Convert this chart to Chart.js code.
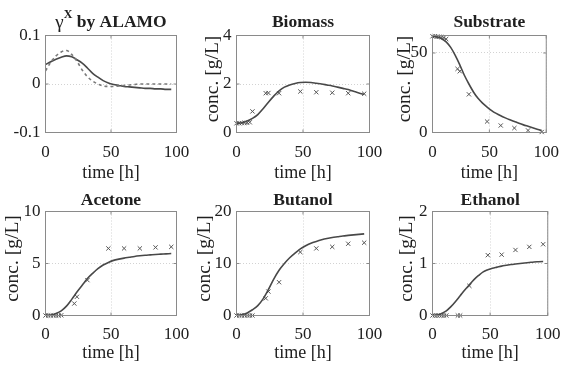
<!DOCTYPE html>
<html>
<head>
<meta charset="utf-8">
<script src="https://cdn.jsdelivr.net/npm/chart.js@4.4.0/dist/chart.umd.min.js"></script>
<style>
  html, body { margin: 0; padding: 0; background: #fff; }
  #wrap { position: relative; width: 569px; height: 369px; overflow: hidden; }
  #wrap canvas { position: absolute; left: 0; top: 0; }
</style>
</head>
<body>
<div id="wrap">
  <canvas id="c0" width="569" height="369"></canvas>
  <canvas id="c1" width="569" height="369"></canvas>
  <canvas id="c2" width="569" height="369"></canvas>
  <canvas id="c3" width="569" height="369"></canvas>
  <canvas id="c4" width="569" height="369"></canvas>
  <canvas id="c5" width="569" height="369"></canvas>
</div>
<script>
// model curves (time grid) and measured points
const modelTime = [0, 4, 8, 12, 16, 20, 24, 28, 32, 36, 40, 44, 48, 52, 56, 60, 64, 68, 72, 76, 80, 84, 88, 92, 96];
const expTime = [0, 2, 4, 6, 8, 10, 12, 22, 24, 32, 48, 60, 72, 84, 96];

const gammaAlamo = [0.040, 0.046, 0.051, 0.055, 0.058, 0.056, 0.050, 0.043, 0.033, 0.022, 0.014, 0.007, 0.002,
  -0.001, -0.003, -0.005, -0.006, -0.007, -0.008, -0.009, -0.009, -0.010, -0.010, -0.011, -0.011];
const gammaRef = [0.027, 0.045, 0.058, 0.066, 0.069, 0.061, 0.047, 0.029, 0.015, 0.006, 0.000, -0.004, -0.005,
  -0.005, -0.004, -0.003, -0.002, -0.001, 0, 0, 0, 0, 0, 0, 0];

const biomassModel = [0.38, 0.40, 0.47, 0.58, 0.74, 0.98, 1.25, 1.50, 1.72, 1.87, 1.96, 2.02, 2.06, 2.07, 2.06,
  2.03, 2.00, 1.96, 1.92, 1.87, 1.82, 1.77, 1.70, 1.63, 1.57];
const biomassExp = [0.38, 0.38, 0.39, 0.40, 0.40, 0.42, 0.87, 1.62, 1.63, 1.62, 1.69, 1.66, 1.64, 1.62, 1.60];

const substrateModel = [60.5, 60.0, 59.0, 57.0, 53.5, 48.5, 42.5, 36.0, 30.5, 25.5, 21.5, 18.5, 16.0, 13.8, 12.0,
  10.5, 9.2, 8.0, 6.9, 5.8, 4.8, 3.9, 3.0, 2.1, 1.2];
const substrateExp = [60.5, 60.5, 60.3, 60.2, 60.0, 59.7, 58.8, 40.0, 38.5, 24.0, 6.9, 4.4, 2.8, 1.3, 0.3];

const acetoneModel = [0, 0.05, 0.2, 0.45, 0.9, 1.55, 2.25, 2.9, 3.55, 4.05, 4.5, 4.85, 5.1, 5.3, 5.42,
  5.52, 5.6, 5.68, 5.74, 5.79, 5.83, 5.87, 5.9, 5.93, 5.96];
const acetoneExp = [0, 0, 0, 0, 0, 0, 0.02, 1.15, 1.8, 3.4, 6.45, 6.45, 6.45, 6.55, 6.6];

const butanolModel = [0, 0.15, 0.5, 1.1, 1.9, 3.2, 5.0, 7.0, 8.7, 10.0, 11.1, 12.0, 12.8, 13.4, 13.9,
  14.25, 14.55, 14.8, 15.0, 15.15, 15.3, 15.4, 15.5, 15.6, 15.7];
const butanolExp = [0, 0, 0, 0, 0, 0, 0, 3.3, 4.6, 6.4, 12.2, 12.9, 13.2, 13.8, 14.0];

const ethanolModel = [0, 0.01, 0.04, 0.09, 0.17, 0.27, 0.38, 0.49, 0.59, 0.69, 0.77, 0.84, 0.88, 0.91, 0.93,
  0.95, 0.965, 0.98, 0.99, 1.0, 1.01, 1.02, 1.03, 1.035, 1.04];
const ethanolExp = [0, 0, 0, 0, 0, 0, 0, 0, 0, 0.57, 1.16, 1.17, 1.26, 1.32, 1.37];

const xTicks = [0, 50, 100];
const gammaTicks = [-0.1, 0, 0.1];
const biomassTicks = [0, 2, 4];
const substrateTicks = [0, 50];
const acetoneTicks = [0, 5, 10];
const butanolTicks = [0, 10, 20];
const ethanolTicks = [0, 1, 2];

const FONT = '"Liberation Serif", "Times New Roman", serif';
const INK = '#202020';
const FRAME = '#8a8a8a';
const W = 569, H = 369;

// axes boxes (MATLAB subplot positions)
const cols = [[45.5, 176.5], [236.5, 369.5], [432.5, 553.5]];
const rows = [
  { top: 35.5, bottom: 132.5, titleMid: 22, xH: 52, tickPad: 10 },
  { top: 211.5, bottom: 315.5, titleMid: 200.5, xH: 49, tickPad: 8.5 }
];

const frame = {
  id: 'frame',
  afterDatasetsDraw(chart, args, opts) {
    const { ctx, chartArea: a, scales: { x, y } } = chart;
    ctx.save();
    ctx.strokeStyle = FRAME;
    ctx.lineWidth = 1;
    ctx.strokeRect(a.left, a.top, a.right - a.left, a.bottom - a.top);
    ctx.beginPath();
    x.ticks.forEach(t => {
      const px = x.getPixelForValue(t.value);
      ctx.moveTo(px, a.bottom); ctx.lineTo(px, a.bottom - 3);
      ctx.moveTo(px, a.top); ctx.lineTo(px, a.top + 3);
    });
    y.ticks.forEach(t => {
      const py = y.getPixelForValue(t.value);
      ctx.moveTo(a.left, py); ctx.lineTo(a.left + 3, py);
      ctx.moveTo(a.right, py); ctx.lineTo(a.right - 3, py);
    });
    ctx.stroke();
    // y label, sits a little above the box centre like the MATLAB export
    if (opts.yLabelX) {
      ctx.translate(opts.yLabelX, (a.top + a.bottom) / 2 - 5);
      ctx.rotate(-Math.PI / 2);
      ctx.fillStyle = INK;
      ctx.font = '19.5px ' + FONT;
      ctx.textAlign = 'center';
      ctx.textBaseline = 'middle';
      ctx.fillText('conc. [g/L]', 0, 0);
    }
    ctx.restore();
  }
};

// "γ^X by ALAMO" needs a superscript, so it is drawn by hand
const richTitle = {
  id: 'richTitle',
  afterDraw(chart) {
    const { ctx, chartArea: a } = chart;
    const base = 27;
    ctx.save();
    ctx.fillStyle = INK;
    ctx.textBaseline = 'alphabetic';
    ctx.font = '19px ' + FONT;
    const w1 = ctx.measureText('γ').width;
    ctx.font = 'bold 12px ' + FONT;
    const w2 = ctx.measureText('X').width;
    ctx.font = 'bold 17.5px ' + FONT;
    const w3 = ctx.measureText(' by ALAMO').width;
    let x = (a.left + a.right) / 2 - (w1 + w2 + w3) / 2;
    ctx.font = '19px ' + FONT;
    ctx.fillText('γ', x, base + 1);
    x += w1;
    ctx.font = 'bold 12px ' + FONT;
    ctx.fillText('X', x, base - 9);
    x += w2;
    ctx.font = 'bold 17.5px ' + FONT;
    ctx.fillText(' by ALAMO', x, base);
    ctx.restore();
  }
};

function pts(xs, ys) {
  return xs.map((t, i) => ({ x: t, y: ys[i] }));
}

function modelLine(vals, dashed) {
  return {
    data: pts(modelTime, vals),
    showLine: true,
    borderColor: dashed ? '#7a7a7a' : '#484848',
    borderWidth: 1.6,
    borderDash: dashed ? [3, 3] : [],
    pointRadius: 0,
    cubicInterpolationMode: 'monotone'
  };
}

function measured(vals) {
  return {
    data: pts(expTime, vals),
    showLine: false,
    pointStyle: 'crossRot',
    pointRadius: 3,
    borderColor: '#555',
    borderWidth: 1,
    clip: false
  };
}

function makePanel(id, col, row, title, yMin, yMax, yTicks, yLabelX, datasets, extra) {
  const [left, right] = cols[col];
  const r = rows[row];
  const titlePad = r.top - r.titleMid - 10.5;
  const yW = 44;
  new Chart(document.getElementById(id), {
    type: 'scatter',
    data: { datasets },
    plugins: extra ? [frame, richTitle] : [frame],
    options: {
      responsive: false,
      animation: false,
      events: [],
      layout: {
        padding: { left: left - yW, right: W - right, top: r.top - 21 - titlePad, bottom: H - r.bottom - r.xH }
      },
      plugins: {
        legend: { display: false },
        tooltip: { enabled: false },
        frame: { yLabelX },
        title: {
          display: true, text: title, fullSize: false, color: INK,
          font: { family: FONT, size: 17.5, weight: 'bold', lineHeight: 1.2 },
          padding: { top: 0, bottom: titlePad }
        }
      },
      scales: {
        x: {
          type: 'linear', min: 0, max: 100,
          afterBuildTicks: s => { s.ticks = xTicks.map(v => ({ value: v })); },
          afterFit: s => { s.height = r.xH; },
          grid: { color: '#d2d2d2', drawTicks: false },
          border: { display: false, dash: [1, 2] },
          ticks: { padding: r.tickPad, color: INK, maxRotation: 0, font: { family: FONT, size: 17 }, callback: v => String(v) },
          title: { display: true, text: 'time [h]', color: INK, padding: 0, font: { family: FONT, size: 18, lineHeight: 1.2 } }
        },
        y: {
          type: 'linear', min: yMin, max: yMax,
          afterBuildTicks: s => { s.ticks = yTicks.map(v => ({ value: v })); },
          afterFit: s => { s.width = yW; },
          grid: { color: '#d2d2d2', drawTicks: false },
          border: { display: false, dash: [1, 2] },
          ticks: { padding: 5, color: INK, font: { family: FONT, size: 17 }, callback: v => String(v) }
        }
      }
    }
  });
}

makePanel('c0', 0, 0, '', -0.1, 0.1, gammaTicks, null,
  [modelLine(gammaRef, true), modelLine(gammaAlamo, false)], true);
makePanel('c1', 1, 0, 'Biomass', 0, 4, biomassTicks, 213,
  [modelLine(biomassModel), measured(biomassExp)]);
makePanel('c2', 2, 0, 'Substrate', 0, 61, substrateTicks, 405,
  [modelLine(substrateModel), measured(substrateExp)]);
makePanel('c3', 0, 1, 'Acetone', 0, 10, acetoneTicks, 13,
  [modelLine(acetoneModel), measured(acetoneExp)]);
makePanel('c4', 1, 1, 'Butanol', 0, 20, butanolTicks, 205,
  [modelLine(butanolModel), measured(butanolExp)]);
makePanel('c5', 2, 1, 'Ethanol', 0, 2, ethanolTicks, 407,
  [modelLine(ethanolModel), measured(ethanolExp)]);
</script>
</body>
</html>
